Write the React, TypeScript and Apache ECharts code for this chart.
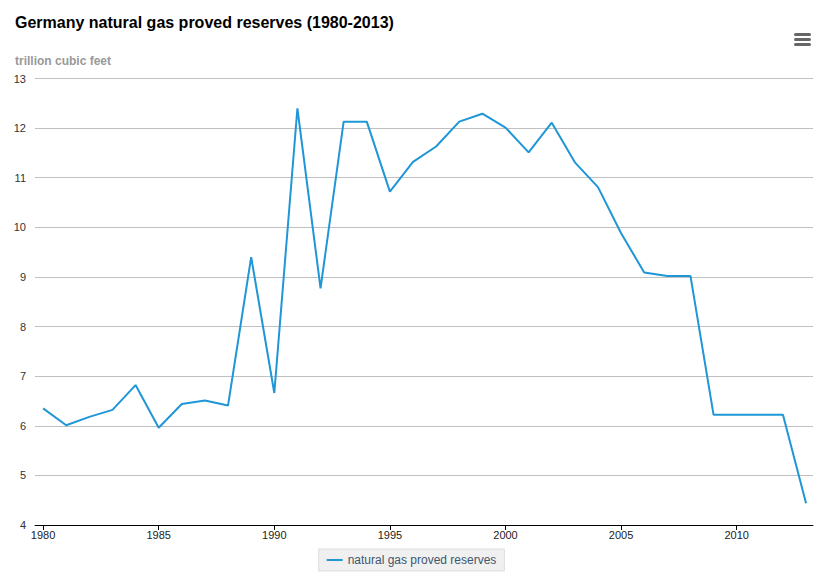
import React, { useEffect, useRef } from "react";
import * as echarts from "echarts";

const years = [
  1980, 1981, 1982, 1983, 1984, 1985, 1986, 1987, 1988, 1989, 1990, 1991,
  1992, 1993, 1994, 1995, 1996, 1997, 1998, 1999, 2000, 2001, 2002, 2003,
  2004, 2005, 2006, 2007, 2008, 2009, 2010, 2011, 2012, 2013,
];
const reserves = [
  6.35, 6.01, 6.18, 6.32, 6.82, 5.96, 6.44, 6.51, 6.41, 9.4, 6.66, 12.4,
  8.77, 12.13, 12.13, 10.72, 11.32, 11.63, 12.13, 12.29, 12.01, 11.51, 12.11,
  11.31, 10.81, 9.88, 9.09, 9.02, 9.02, 6.22, 6.22, 6.22, 6.22, 4.44,
];
const xTickLabels = [1980, 1985, 1990, 1995, 2000, 2005, 2010];
const seriesName = "natural gas proved reserves";
const titleText = "Germany natural gas proved reserves (1980-2013)";
const unitText = "trillion cubic feet";

const FONT = "'Liberation Sans', Arial, sans-serif";

export default function App() {
  const ref = useRef<HTMLDivElement>(null);

  useEffect(() => {
    document.body.style.margin = "0";
    if (!ref.current) return;
    const chart = echarts.init(ref.current, null, { renderer: "svg" });
    chart.setOption({
      animation: false,
      backgroundColor: "#ffffff",
      textStyle: { fontFamily: FONT },
      title: [
        {
          text: titleText,
          left: 15,
          top: 14,
          padding: 0,
          textStyle: {
            fontFamily: FONT,
            fontSize: 16,
            fontWeight: "bold",
            color: "#000000",
          },
        },
        {
          text: unitText,
          left: 15,
          top: 55,
          padding: 0,
          textStyle: {
            fontFamily: FONT,
            fontSize: 12,
            fontWeight: "bold",
            color: "#999999",
          },
        },
      ],
      legend: {
        left: "center",
        top: 549,
        padding: [5, 8, 5, 8],
        backgroundColor: "#f0f0f0",
        borderColor: "#dddddd",
        borderWidth: 1,
        icon: "rect",
        itemWidth: 16,
        itemHeight: 2,
        textStyle: { fontFamily: FONT, fontSize: 12, color: "#3e576f" },
        data: [seriesName],
      },
      grid: {
        left: 35,
        right: 10,
        top: 78.5,
        bottom: 62,
        containLabel: false,
      },
      xAxis: {
        type: "value",
        min: 1979.65,
        max: 2013.3,
        splitLine: { show: false },
        axisLine: { show: true, lineStyle: { color: "#000000", width: 1 } },
        axisTick: {
          show: true,
          length: 5,
          customValues: xTickLabels,
          lineStyle: { color: "#000000" },
        },
        axisLabel: {
          customValues: xTickLabels,
          margin: 4,
          fontSize: 11,
          color: "#222222",
          fontFamily: FONT,
          formatter: (v: number) => String(v),
        },
      },
      yAxis: {
        type: "value",
        min: 4,
        max: 13,
        interval: 1,
        axisLine: { show: false },
        axisTick: { show: false },
        splitLine: { show: true, lineStyle: { color: "#c0c0c0", width: 1 } },
        axisLabel: {
          margin: 9,
          fontSize: 11,
          color: "#333333",
          fontFamily: FONT,
          padding: [6, 0, 0, 0],
        },
      },
      series: [
        {
          name: seriesName,
          type: "line",
          data: years.map((y, i) => [y, reserves[i]]),
          showSymbol: false,
          symbol: "none",
          lineStyle: { color: "#1f96d6", width: 2 },
          itemStyle: { color: "#1f96d6" },
        },
      ],
      graphic: [
        { type: "rect", left: 794, top: 33, shape: { width: 17, height: 3, r: 1.5 }, style: { fill: "#666666" } },
        { type: "rect", left: 794, top: 38, shape: { width: 17, height: 3, r: 1.5 }, style: { fill: "#666666" } },
        { type: "rect", left: 794, top: 43, shape: { width: 17, height: 3, r: 1.5 }, style: { fill: "#666666" } },
      ],
    });
    return () => chart.dispose();
  }, []);

  return (
    <div
      ref={ref}
      style={{ width: 823, height: 587, position: "absolute", left: 0, top: 0 }}
    />
  );
}
